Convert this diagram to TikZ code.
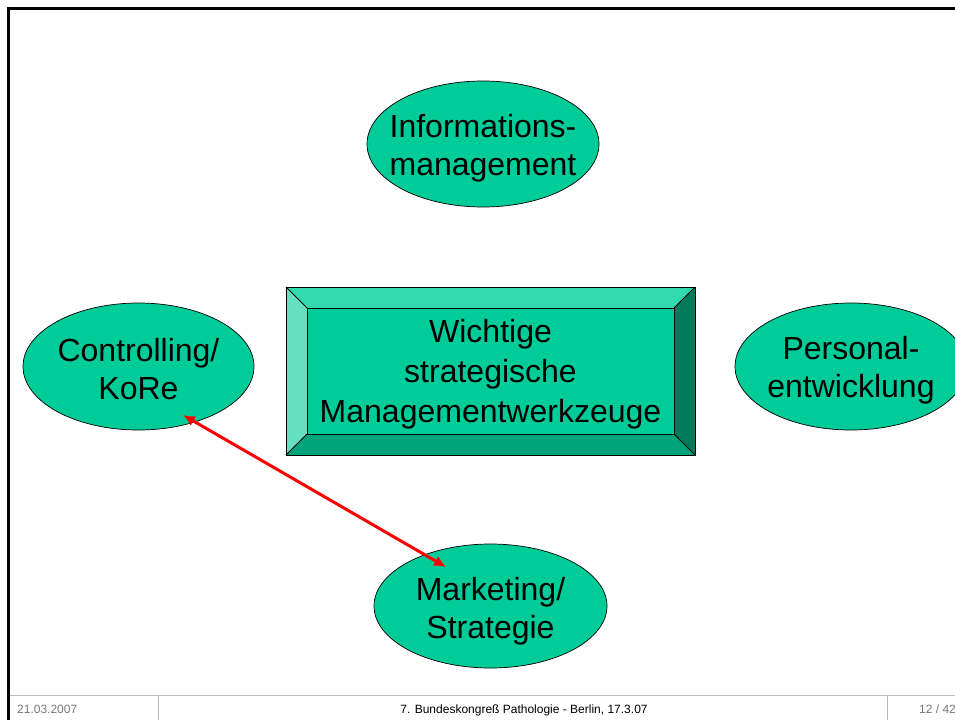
\documentclass[tikz,border=0pt]{standalone}
\usepackage{fontspec}
\setmainfont{Liberation Sans}
\usetikzlibrary{shapes.geometric,arrows.meta}
\definecolor{tealmain}{HTML}{00CC99}
\definecolor{beveltop}{HTML}{33D9AE}
\definecolor{bevelleft}{HTML}{66E0C1}
\definecolor{bevelbottom}{HTML}{00A37A}
\definecolor{bevelright}{HTML}{007A5B}
\definecolor{footgrey}{HTML}{777777}
\definecolor{footline}{HTML}{BBBBBB}
\tikzset{
  bubble/.style={ellipse, draw=black, line width=0.7pt, fill=tealmain, minimum width=232pt, minimum height=126pt, inner sep=0pt},
  bubbletext/.style={align=center, font=\fontsize{32}{38.5}\selectfont, inner sep=0pt},
  bevel/.style={draw=black, line width=0.8pt, line join=miter},
  bigtext/.style={align=center, font=\fontsize{32}{40}\selectfont, inner sep=0pt},
  foottext/.style={font=\fontsize{12}{14}\selectfont, inner sep=0pt, anchor=base},
  footrule/.style={draw=footline, line width=1pt},
  link/.style={draw=red, line width=3pt, {Latex[length=12pt,width=11pt]}-{Latex[length=12pt,width=11pt]}}
}
\begin{document}
\begin{tikzpicture}[x=1pt,y=-1pt]
\useasboundingbox[fill=white] (0,0) rectangle (955,720);
% bevelled box
\coordinate (o1) at (286,287); \coordinate (o2) at (695,287);
\coordinate (o3) at (695,455); \coordinate (o4) at (286,455);
\coordinate (i1) at (307,308); \coordinate (i2) at (674,308);
\coordinate (i3) at (674,434); \coordinate (i4) at (307,434);
\fill[beveltop] (o1) -- (o2) -- (i2) -- (i1) -- cycle;
\fill[bevelright] (o2) -- (o3) -- (i3) -- (i2) -- cycle;
\fill[bevelbottom] (o3) -- (o4) -- (i4) -- (i3) -- cycle;
\fill[bevelleft] (o4) -- (o1) -- (i1) -- (i4) -- cycle;
\fill[tealmain] (i1) rectangle (i3);
\draw[bevel] (o1) -- (o2) -- (o3) -- (o4) -- cycle;
\draw[bevel] (i1) -- (i2) -- (i3) -- (i4) -- cycle;
\draw[bevel] (o1) -- (i1) (o2) -- (i2) (o3) -- (i3) (o4) -- (i4);
\node[bigtext] (center) at (490.5,374) {Wichtige\\strategische\\Managementwerkzeuge};
% ellipses
\node[bubble] (info) at (483,144) {};
\node[bubbletext] (infot) at (483,148) {Informations-\\management};
\node[bubble, minimum width=231pt, minimum height=127pt] (ctrl) at (138.5,366.5) {};
\node[bubbletext] (ctrlt) at (138.5,369) {Controlling/\\KoRe};
\node[bubble, minimum height=127pt] (pers) at (851,366.5) {};
\node[bubbletext] (perst) at (851,370) {Personal-\\entwicklung};
\node[bubble, minimum width=233pt, minimum height=124pt] (mkt) at (490.5,606) {};
\node[bubbletext] (mktt) at (490.5,611) {Marketing/\\Strategie};
% arrow
\coordinate (a1) at (183,415);
\coordinate (a2) at (446,567);
\draw[link] (a1) -- (a2);
% footer
\coordinate (f1) at (9,695); \coordinate (f2) at (955,695);
\coordinate (v1) at (158,695); \coordinate (v1b) at (158,720);
\coordinate (v2) at (887,695); \coordinate (v2b) at (887,720);
\draw[footrule] (f1) -- (f2);
\draw[footrule] (v1) -- (v1b);
\draw[footrule] (v2) -- (v2b);
\node[foottext, anchor=base west, text=footgrey] (date) at (17,713) {21.03.2007};
\node[foottext, text=black] (title) at (524,713) {7. Bundeskongreß Pathologie - Berlin, 17.3.07};
\node[foottext, anchor=base west, text=footgrey] (page) at (919,713) {12 / 42};
% frame
\coordinate (c1) at (8,720); \coordinate (c2) at (8,8.5); \coordinate (c3) at (955,8.5);
\draw[black, line width=3pt, line join=miter] (c1) -- (c2) -- (c3);
\end{tikzpicture}
\end{document}
